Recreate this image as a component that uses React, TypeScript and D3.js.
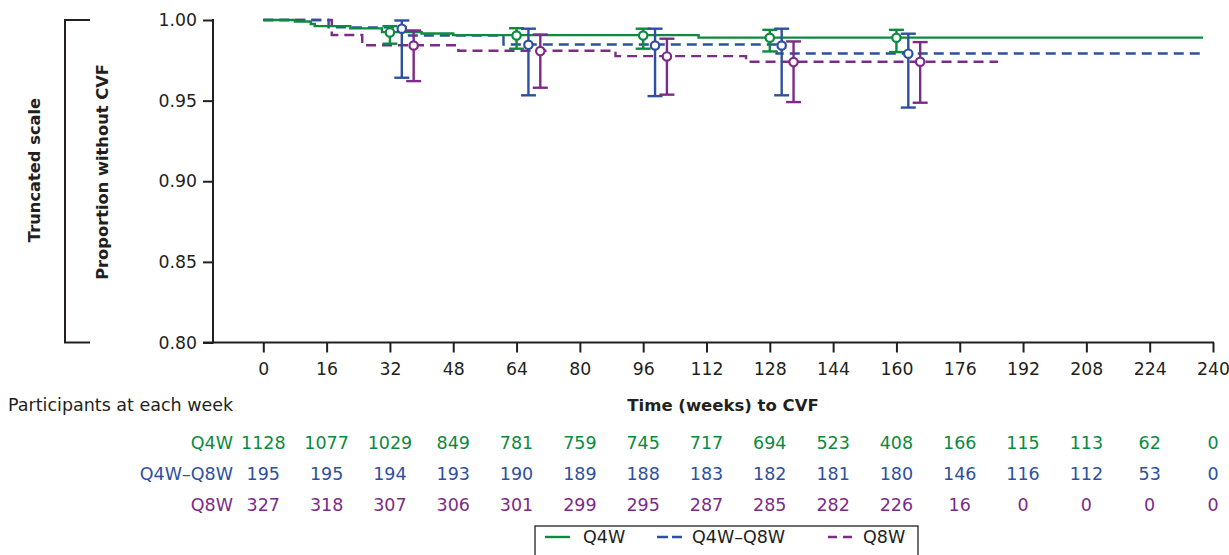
import React, { useEffect, useRef } from 'react';
import * as d3 from 'd3';

const W = 1229, H = 555;
const INK = '#231f20';
const FONT = '"DejaVu Sans", "Liberation Sans", sans-serif';

const GROUPS = ['Q4W', 'Q4W–Q8W', 'Q8W'];
const COLORS = ['#0b8a40', '#2d50a0', '#7c2b88'];
const DASHES = [null, '10,6', '10,6'];
const LEGEND_DASHES = [null, '11,4', '9,6'];

const X_TICKS = [0, 16, 32, 48, 64, 80, 96, 112, 128, 144, 160, 176, 192, 208, 224, 240];
const Y_TICKS = [0.8, 0.85, 0.9, 0.95, 1.0];

// Kaplan-Meier step curves (weeks, proportion without CVF)
const Q4W_TIME = [0, 8, 12, 13, 22, 30, 40, 48, 110, 237.5];
const Q4W_SURV = [1, 0.9991, 0.9975, 0.9962, 0.9948, 0.9925, 0.9916, 0.9906, 0.9891, 0.9891];
const Q4Q8_TIME = [0, 16.5, 36, 60.7, 129.7, 237.5];
const Q4Q8_SURV = [1, 0.9954, 0.9904, 0.9848, 0.9792, 0.9792];
const Q8W_TIME = [0, 17.3, 25, 49.3, 89, 122, 185.7];
const Q8W_SURV = [1, 0.9907, 0.9843, 0.9809, 0.9776, 0.9741, 0.9741];

// point estimates with 95% CI at selected weeks
const CI_WEEKS = [32, 64, 96, 128, 160];
const Q4W_EST = [0.9923, 0.9904, 0.9904, 0.989, 0.989];
const Q4W_LO = [0.9853, 0.9822, 0.9822, 0.9805, 0.9801];
const Q4W_HI = [0.9962, 0.9949, 0.9946, 0.9939, 0.9939];
const Q4Q8_EST = [0.9946, 0.9846, 0.9842, 0.9842, 0.9791];
const Q4Q8_LO = [0.9642, 0.9533, 0.9528, 0.9533, 0.9457];
const Q4Q8_HI = [0.9997, 0.9946, 0.9946, 0.9946, 0.9915];
const Q8W_EST = [0.9842, 0.9807, 0.9774, 0.9739, 0.9741];
const Q8W_LO = [0.9621, 0.958, 0.9537, 0.9491, 0.9487];
const Q8W_HI = [0.9935, 0.991, 0.9884, 0.9867, 0.9863];

// participants at risk at each x tick
const Q4W_RISK = [1128, 1077, 1029, 849, 781, 759, 745, 717, 694, 523, 408, 166, 115, 113, 62, 0];
const Q4Q8_RISK = [195, 195, 194, 193, 190, 189, 188, 183, 182, 181, 180, 146, 116, 112, 53, 0];
const Q8W_RISK = [327, 318, 307, 306, 301, 299, 295, 287, 285, 282, 226, 16, 0, 0, 0, 0];

export default function App() {
  const ref = useRef<SVGSVGElement>(null);

  useEffect(() => {
    const svg = d3.select(ref.current);
    svg.selectAll('*').remove();

    const x = d3.scaleLinear().domain([0, 240]).range([263.3, 1213]);
    const y = d3.scaleLinear().domain([0.8, 1]).range([342.5, 20]);
    const dodge = [0, 3, 6];
    const axisX = x(0) - 50.3;

    const curves = [
      { t: Q4W_TIME, s: Q4W_SURV },
      { t: Q4Q8_TIME, s: Q4Q8_SURV },
      { t: Q8W_TIME, s: Q8W_SURV },
    ];
    const cis = [
      { est: Q4W_EST, lo: Q4W_LO, hi: Q4W_HI },
      { est: Q4Q8_EST, lo: Q4Q8_LO, hi: Q4Q8_HI },
      { est: Q8W_EST, lo: Q8W_LO, hi: Q8W_HI },
    ];
    const risks = [Q4W_RISK, Q4Q8_RISK, Q8W_RISK];

    // y axis
    const yAxis = d3.axisLeft(y).tickValues(Y_TICKS).tickFormat(d3.format('.2f'))
      .tickSize(10).tickPadding(6).tickSizeOuter(0);
    const gy = svg.append('g').attr('transform', `translate(${axisX},0)`).call(yAxis);
    gy.select('.domain').remove();
    gy.selectAll('line').attr('stroke', INK).attr('stroke-width', 2);
    gy.selectAll('text').attr('fill', INK).attr('font-size', 17.3).attr('font-family', FONT);
    svg.append('line')
      .attr('x1', axisX).attr('x2', axisX)
      .attr('y1', y(1) - 1).attr('y2', y(0.8) + 1)
      .attr('stroke', INK).attr('stroke-width', 2);

    // x axis
    const xAxis = d3.axisBottom(x).tickValues(X_TICKS).tickSize(10).tickPadding(10).tickSizeOuter(0);
    const gx = svg.append('g').attr('transform', `translate(0,${y(0.8)})`).call(xAxis);
    gx.select('.domain').remove();
    gx.selectAll('line').attr('stroke', INK).attr('stroke-width', 2);
    gx.selectAll('text').attr('fill', INK).attr('font-size', 17.3).attr('font-family', FONT);
    svg.append('line')
      .attr('x1', axisX - 10).attr('x2', x(240) + 1)
      .attr('y1', y(0.8)).attr('y2', y(0.8))
      .attr('stroke', INK).attr('stroke-width', 2);

    // truncated-scale bracket
    const bx = 65;
    svg.append('path')
      .attr('d', `M${bx + 25},${y(1)} H${bx} V${y(0.8)} H${bx + 25}`)
      .attr('fill', 'none').attr('stroke', INK).attr('stroke-width', 2);

    svg.append('text')
      .attr('transform', `translate(40,170) rotate(-90)`)
      .attr('text-anchor', 'middle').attr('fill', INK)
      .attr('font-size', 16.3).attr('font-weight', 'bold').attr('font-family', FONT)
      .text('Truncated scale');
    svg.append('text')
      .attr('transform', `translate(108,172) rotate(-90)`)
      .attr('text-anchor', 'middle').attr('fill', INK)
      .attr('font-size', 16.3).attr('font-weight', 'bold').attr('font-family', FONT)
      .text('Proportion without CVF');

    // KM curves, drawn back to front
    const step = d3.line().curve(d3.curveStepAfter);
    [2, 1, 0].forEach(k => {
      const c = curves[k];
      const pts = c.t.map((t, i) => [x(t), y(c.s[i])] as [number, number]);
      svg.append('path')
        .attr('d', step(pts))
        .attr('fill', 'none')
        .attr('stroke', COLORS[k])
        .attr('stroke-width', 2.4)
        .attr('stroke-dasharray', DASHES[k]);
    });

    // CI markers
    [0, 1, 2].forEach(k => {
      const c = cis[k];
      CI_WEEKS.forEach((wk, i) => {
        const cx = x(wk + dodge[k]);
        const g = svg.append('g').attr('stroke', COLORS[k]).attr('stroke-width', 2.4);
        g.append('line').attr('x1', cx).attr('x2', cx).attr('y1', y(c.hi[i])).attr('y2', y(c.lo[i]));
        g.append('line').attr('x1', cx - 7.5).attr('x2', cx + 7.5).attr('y1', y(c.hi[i])).attr('y2', y(c.hi[i]));
        g.append('line').attr('x1', cx - 7.5).attr('x2', cx + 7.5).attr('y1', y(c.lo[i])).attr('y2', y(c.lo[i]));
        g.append('circle').attr('cx', cx).attr('cy', y(c.est[i])).attr('r', 4.2).attr('fill', '#fff').attr('stroke-width', 2.2);
      });
    });

    // titles below axis
    svg.append('text')
      .attr('x', 8).attr('y', 411)
      .attr('fill', INK).attr('font-size', 17.5).attr('font-family', FONT)
      .text('Participants at each week');
    svg.append('text')
      .attr('x', 723).attr('y', 411)
      .attr('text-anchor', 'middle').attr('fill', INK)
      .attr('font-size', 16.5).attr('font-weight', 'bold').attr('font-family', FONT)
      .text('Time (weeks) to CVF');

    // risk table
    const rowY = [443, 474, 505];
    risks.forEach((row, k) => {
      svg.append('text')
        .attr('x', 233).attr('y', rowY[k])
        .attr('dy', '0.36em')
        .attr('text-anchor', 'end').attr('fill', COLORS[k])
        .attr('font-size', 17.5).attr('font-family', FONT)
        .text(GROUPS[k]);
      row.forEach((n, i) => {
        svg.append('text')
          .attr('x', x(X_TICKS[i])).attr('y', rowY[k])
          .attr('dy', '0.36em')
          .attr('text-anchor', 'middle').attr('fill', COLORS[k])
          .attr('font-size', 17.5).attr('font-family', FONT)
          .text(n);
      });
    });

    // legend
    svg.append('rect')
      .attr('x', 535).attr('y', 526).attr('width', 383).attr('height', 50)
      .attr('fill', 'none').attr('stroke', INK).attr('stroke-width', 1.3);
    const legX = [545, 657, 828];
    const legTextX = [583, 692, 863];
    GROUPS.forEach((name, k) => {
      svg.append('line')
        .attr('x1', legX[k]).attr('x2', legX[k] + 25)
        .attr('y1', 537).attr('y2', 537)
        .attr('stroke', COLORS[k]).attr('stroke-width', 2.4)
        .attr('stroke-dasharray', LEGEND_DASHES[k]);
      svg.append('text')
        .attr('x', legTextX[k]).attr('y', 543)
        .attr('fill', INK).attr('font-size', 17.5).attr('font-family', FONT)
        .text(name);
    });
  }, []);

  return (
    <svg
      ref={ref}
      width={W}
      height={H}
      style={{ position: 'absolute', left: 0, top: 0, background: '#fff' }}
    />
  );
}
